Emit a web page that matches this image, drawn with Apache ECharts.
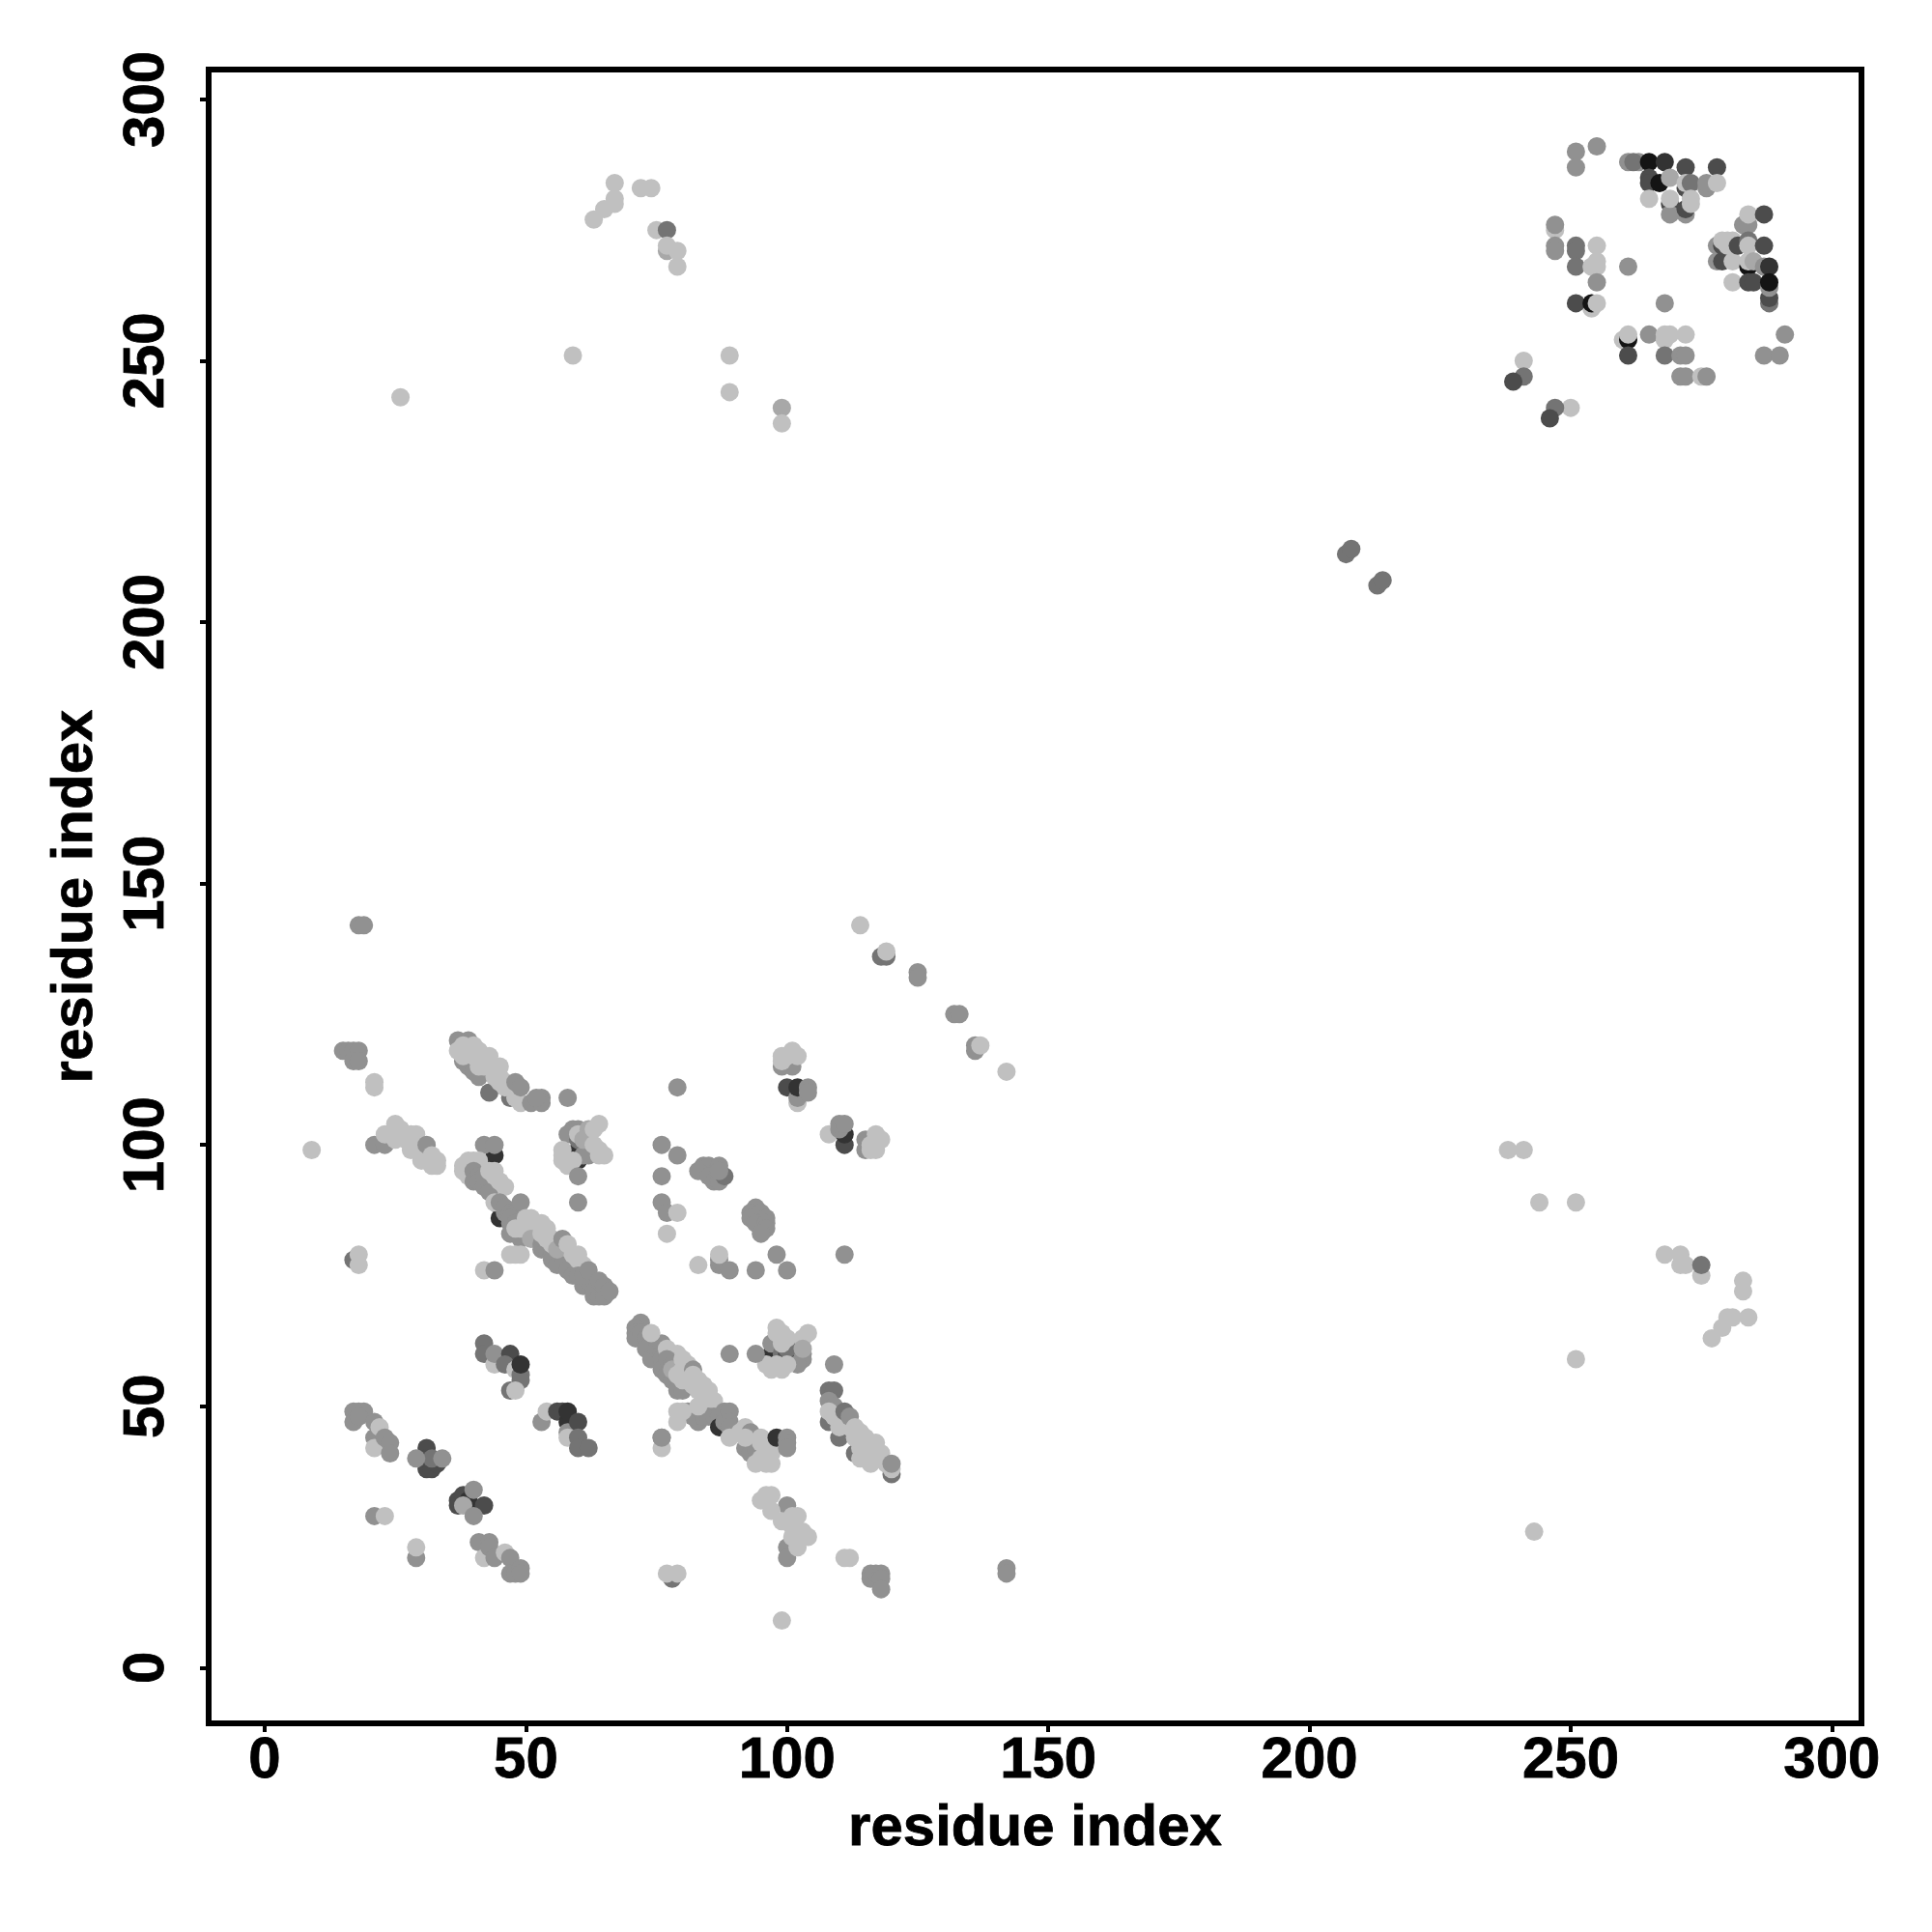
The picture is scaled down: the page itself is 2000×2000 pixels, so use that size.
<!DOCTYPE html>
<html>
<head>
<meta charset="utf-8">
<style>html,body{margin:0;padding:0;background:#fff}#c{width:2000px;height:2000px}</style>
<script src="https://cdn.jsdelivr.net/npm/echarts@6/dist/echarts.min.js"></script>
</head>
<body>
<div id="c"></div>
<script>
const tickValues = [0, 50, 100, 150, 200, 250, 300];
const axisTitle = 'residue index';
// Each contact: [residue i, residue j, darkness level]
const leftIsland = [[15,118,2],[16,118,2],[17,118,2],[18,118,2],[17,116,2],[18,116,2],[21,112,0],[21,111,0],[9,99,0],[21,100,2],[23,100,2],[23,102,0],[24,102,0],[25,104,0],[26,103,0],[26,102,0],[25,101,0],[28,102,0],[29,102,0],[27,101,0],[28,99,0],[29,100,0],[30,97,0],[31,100,2],[32,98,0],[33,97,0],[33,96,0],[32,96,0],[17,78,3],[18,79,0],[18,77,0]];
const upperStrand = [[37,120,2],[39,120,2],[38,116,2],[39,115,2],[40,114,2],[41,113,2],[43,110,3],[47,109,3],[38,119,0],[37,118,0],[38,117,0],[40,119,0],[40,117,0],[41,118,0],[42,117,0],[43,117,0],[42,116,0],[43,116,0],[41,115,0],[42,115,0],[44,115,0],[45,115,0],[44,113,0],[45,113,0],[45,112,0],[46,112,0],[46,111,0],[47,111,0],[48,109,0],[49,108,0],[48,112,2],[49,111,2],[51,108,2],[53,109,2],[53,108,2],[52,109,2],[58,109,2]];
const islandA = [[59,103,2],[58,102,2],[60,99,5],[60,97,5],[60,101,3],[62,100,4],[62,98,2],[61,98,2],[61,102,2],[60,103,2],[57,99,0],[57,98,0],[57,97,0],[58,96,0],[59,97,0],[60,102,0],[62,103,1],[61,101,1],[64,104,0],[63,103,0],[63,100,0],[64,99,0],[64,98,0],[65,98,0],[60,94,2],[60,89,2]];
const middleStrand = [[45,86,5],[44,98,5],[42,100,2],[44,100,2],[39,97,0],[38,96,0],[38,95,0],[39,94,0],[40,97,0],[41,97,0],[40,95,2],[41,94,2],[40,93,2],[41,93,2],[42,92,2],[43,91,2],[42,94,2],[43,95,0],[44,95,0],[44,94,0],[45,93,0],[46,92,0],[47,85,2],[46,87,2],[44,89,0],[45,89,2],[46,88,2],[47,87,2],[48,87,2],[47,86,2],[48,85,2],[47,83,2],[49,82,2],[49,89,2],[48,84,0],[49,84,0],[50,85,0],[50,86,0],[51,86,0],[52,85,0],[53,85,0],[54,84,0],[51,84,0],[52,83,0],[51,82,1],[47,79,0],[48,79,0],[49,79,0],[42,76,0],[44,76,2],[53,81,2],[53,80,2],[54,80,2],[55,79,2],[55,78,2],[56,77,2],[57,77,2],[58,76,2],[59,75,2],[54,82,0],[55,82,0],[53,83,0],[56,81,0],[55,81,0],[56,80,1],[57,82,2],[58,81,0],[59,79,0],[60,79,0],[60,78,0],[61,77,0],[61,73,2],[62,74,2],[60,75,2],[61,75,2],[62,76,2],[63,72,2],[63,71,2],[64,71,2],[64,74,2],[65,71,2],[65,73,2],[66,72,2]];
const rightColumns = [[76,100,2],[79,111,2],[79,98,2],[76,94,2],[76,89,2],[77,87,2],[79,87,0],[77,83,0],[84,96,2],[85,96,2],[87,96,2],[83,95,2],[85,94,2],[86,93,2],[87,93,2],[88,94,3],[87,95,2],[94,88,2],[93,87,2],[95,87,2],[96,86,2],[93,86,2],[94,85,2],[96,85,2],[96,84,2],[95,83,2],[83,77,0],[87,77,2],[87,78,2],[87,79,0],[89,76,2],[94,76,2],[98,79,2],[100,76,2],[111,79,2]];
const lowerStrand = [[72,66,2],[71,65,2],[71,64,2],[71,63,2],[72,64,2],[73,63,2],[73,61,2],[74,59,2],[75,61,2],[76,62,2],[76,60,2],[76,59,2],[76,57,2],[74,64,0],[77,61,0],[78,60,0],[79,60,0],[77,59,2],[78,58,2],[77,56,2],[78,55,2],[79,53,2],[80,53,2],[78,57,1],[79,56,0],[80,55,0],[81,58,0],[80,59,0],[80,57,0],[82,57,2],[81,55,0],[82,56,0],[83,55,0],[82,54,0],[83,53,0],[84,54,0],[85,53,0],[84,51,0],[85,52,0],[86,51,0],[81,49,2],[83,47,2],[82,48,2],[84,48,2],[85,48,2],[79,49,0],[79,47,0],[80,49,0],[83,50,0],[86,48,2],[87,48,2],[87,46,5],[88,49,2],[88,47,2],[89,49,2],[89,47,2],[89,46,2],[89,44,0],[92,46,0],[91,45,0],[93,45,2],[92,42,2],[93,43,2],[93,41,2],[94,44,2],[94,42,2],[92,44,0],[94,39,0],[95,40,0],[95,44,0],[95,43,0],[96,41,0],[96,39,0],[97,41,0],[97,39,0],[96,43,0],[98,44,5],[100,44,2],[100,43,2],[100,42,2],[76,44,2],[76,42,0]];
const islandB = [[97,60,5],[97,62,2],[99,60,3],[100,60,4],[101,62,2],[102,62,2],[103,60,2],[103,59,2],[102,58,2],[100,61,3],[98,65,0],[98,64,0],[99,64,0],[100,63,0],[99,62,0],[104,64,0],[103,63,0],[103,61,1],[96,58,0],[97,57,0],[98,58,0],[99,57,0],[100,58,0],[89,60,2],[94,60,2]];
const rightStrand = [[109,58,2],[108,53,3],[109,53,3],[108,51,2],[109,50,2],[108,47,3],[110,44,3],[111,46,3],[113,41,3],[108,49,0],[109,48,0],[110,47,0],[110,46,0],[111,47,0],[112,46,0],[111,49,3],[112,48,2],[113,46,0],[114,45,0],[113,44,0],[115,44,0],[115,43,0],[116,42,0],[114,42,0],[117,43,0],[114,40,0],[115,40,0],[116,39,0],[117,40,0],[118,41,0],[118,40,0],[119,39,0],[120,37,3],[120,38,0],[120,39,2]];
const lowerLeft = [[42,62,3],[42,60,3],[44,58,0],[44,60,2],[47,60,4],[47,53,3],[46,58,3],[48,57,0],[49,56,3],[49,55,3],[48,53,0],[49,58,5],[53,47,2],[54,49,0],[56,49,4],[57,49,4],[58,47,5],[58,45,2],[58,44,0],[58,49,5],[60,47,4],[60,44,3],[60,42,3],[62,42,3],[18,49,2],[19,49,2],[17,49,2],[17,47,2],[18,48,2],[21,47,2],[21,44,2],[21,42,0],[22,46,0],[23,44,2],[24,43,2],[24,41,2],[31,42,4],[31,40,4],[31,38,4],[32,38,4],[33,39,4],[32,40,3],[29,40,2],[34,40,2],[37,32,4],[37,31,4],[38,33,4],[39,32,5],[39,31,5],[38,31,1],[42,31,4],[40,29,2],[40,34,2],[21,29,2],[23,29,0],[29,21,2],[29,23,0],[41,24,2],[42,21,0],[43,24,2],[43,23,2],[44,21,2],[46,22,0],[47,21,2],[47,18,2],[48,18,2],[49,19,2],[49,18,2],[76,44,2]];
const lowerRight = [[78,17,3],[77,18,0],[79,18,0],[96,33,0],[97,33,0],[95,32,0],[100,31,2],[97,30,0],[99,28,0],[101,29,0],[102,29,0],[101,27,0],[103,26,0],[100,23,2],[100,21,2],[104,25,0],[101,25,0],[102,23,0],[111,21,0],[112,21,0],[116,18,2],[116,17,2],[117,18,2],[118,18,2],[118,17,2],[118,15,2],[142,19,2],[142,18,2],[99,9,0]];
const upperMiddle = [[99,115,2],[101,115,2],[99,117,0],[99,116,0],[101,118,0],[102,117,0],[100,117,0],[100,111,4],[102,108,0],[102,109,2],[102,111,5],[104,111,2],[104,110,2],[108,102,0],[111,100,4],[111,102,5],[110,103,2],[110,104,2],[111,104,2],[115,101,2],[115,99,2],[116,100,0],[116,99,0],[117,99,0],[117,102,0],[118,101,0],[18,142,2],[19,142,2],[114,142,0],[118,136,3],[119,136,3],[119,137,0],[125,133,2],[125,132,2],[132,125,2],[133,125,2],[136,119,2],[136,118,2],[137,119,0],[142,114,0]];
const topLeft = [[26,243,0],[59,251,0],[63,277,0],[65,279,0],[67,280,0],[67,281,0],[67,284,0],[72,283,0],[74,283,0],[75,275,0],[77,275,3],[77,271,1],[77,272,0],[79,271,0],[79,268,0],[89,251,0],[89,244,0],[99,241,1],[99,238,0]];
const centre = [[207,213,3],[208,214,3],[213,207,3],[214,208,3]];
const bottomRight = [[238,99,0],[241,99,0],[244,89,0],[251,89,0],[268,79,0],[271,79,0],[271,77,0],[272,77,0],[275,75,0],[275,77,3],[283,74,0],[283,72,0],[280,67,0],[281,67,0],[284,67,0],[279,65,0],[277,63,0],[251,59,0],[243,26,0]];
const topRightUpper = [[251,290,2],[251,287,2],[255,291,2],[261,288,2],[263,288,2],[262,288,3],[265,288,6],[268,288,5],[272,287,4],[278,287,4],[265,285,4],[265,284,4],[267,284,6],[269,285,1],[272,283,4],[272,284,0],[273,284,3],[276,283,2],[276,284,2],[278,284,0],[265,281,0],[269,280,4],[269,278,2],[269,281,0],[272,278,2],[272,279,4],[273,280,0],[273,281,0],[283,276,2],[284,276,2],[284,278,0],[287,278,4]];
const topRightLeft = [[247,275,0],[247,276,2],[247,272,2],[247,271,2],[251,272,3],[251,271,3],[251,268,3],[255,272,0],[255,269,0],[254,268,0],[255,268,0],[255,265,2],[261,268,2],[254,260,0],[251,261,4],[254,261,6],[255,261,0],[268,261,2],[260,254,0],[261,254,6],[261,255,0],[261,251,4],[265,255,2],[268,254,0],[268,255,0],[269,255,0],[272,255,0],[268,251,3],[271,251,2],[272,251,2],[271,247,2],[272,247,2],[275,247,0],[276,247,2],[291,255,2],[287,251,2],[290,251,2],[241,250,0],[241,247,3],[239,246,4],[250,241,0],[247,241,3],[246,239,4]];
const topRightCorner = [[278,272,2],[278,269,2],[279,269,4],[279,272,4],[279,273,0],[280,273,0],[280,272,0],[281,273,0],[281,272,0],[281,269,0],[282,272,4],[284,273,3],[284,272,0],[287,272,4],[281,265,0],[284,268,6],[284,269,0],[285,269,1],[287,268,2],[288,268,5],[284,265,4],[285,265,4],[288,261,3],[288,262,4],[288,264,2],[288,265,6]];

const clusters = [leftIsland, upperStrand, islandA, middleStrand, rightColumns, lowerStrand, islandB, rightStrand, lowerLeft, lowerRight, upperMiddle, topLeft, centre, bottomRight, topRightUpper, topRightLeft, topRightCorner];
const palette = ['#c0c0c0', '#a8a8a8', '#919191', '#747474', '#4c4c4c', '#333333', '#141414'];

const font = 'Liberation Sans';
function axis(nameGap, labelMargin, rotate, lo, hi) {
  return {
    type: 'value', min: lo, max: hi, name: axisTitle, nameLocation: 'middle', nameGap: nameGap,
    nameTextStyle: { fontFamily: font, fontWeight: 'bold', fontSize: 60, color: '#000', textBorderColor: '#000', textBorderWidth: 0.8 },
    splitLine: { show: false }, axisLine: { show: false, onZero: false },
    axisTick: { show: true, length: 9, lineStyle: { color: '#000', width: 4 }, customValues: tickValues },
    axisLabel: { show: true, margin: labelMargin, rotate: rotate, fontFamily: font, fontWeight: 'bold', fontSize: 60, color: '#000', textBorderColor: '#000', textBorderWidth: 0.8, customValues: tickValues, hideOverlap: false, showMinLabel: true, showMaxLabel: true }
  };
}
const chart = echarts.init(document.getElementById('c'), null, { renderer: 'canvas' });
chart.setOption({
  animation: false,
  backgroundColor: '#fff',
  grid: { left: 216, right: 73, top: 72, bottom: 216, show: true, borderWidth: 6, borderColor: '#000', backgroundColor: 'transparent', containLabel: false },
  xAxis: axis(79, 9, 0, -10.72, 305.66),
  yAxis: axis(108, 34, 90, -10.66, 305.7),
  series: clusters.map(c => ({
    type: 'scatter', symbol: 'circle', symbolSize: 19, data: c, large: false, clip: false,
    encode: { x: 0, y: 1 },
    itemStyle: { opacity: 1, borderWidth: 0, color: p => palette[p.value[2]] }
  }))
});
</script>
</body>
</html>
